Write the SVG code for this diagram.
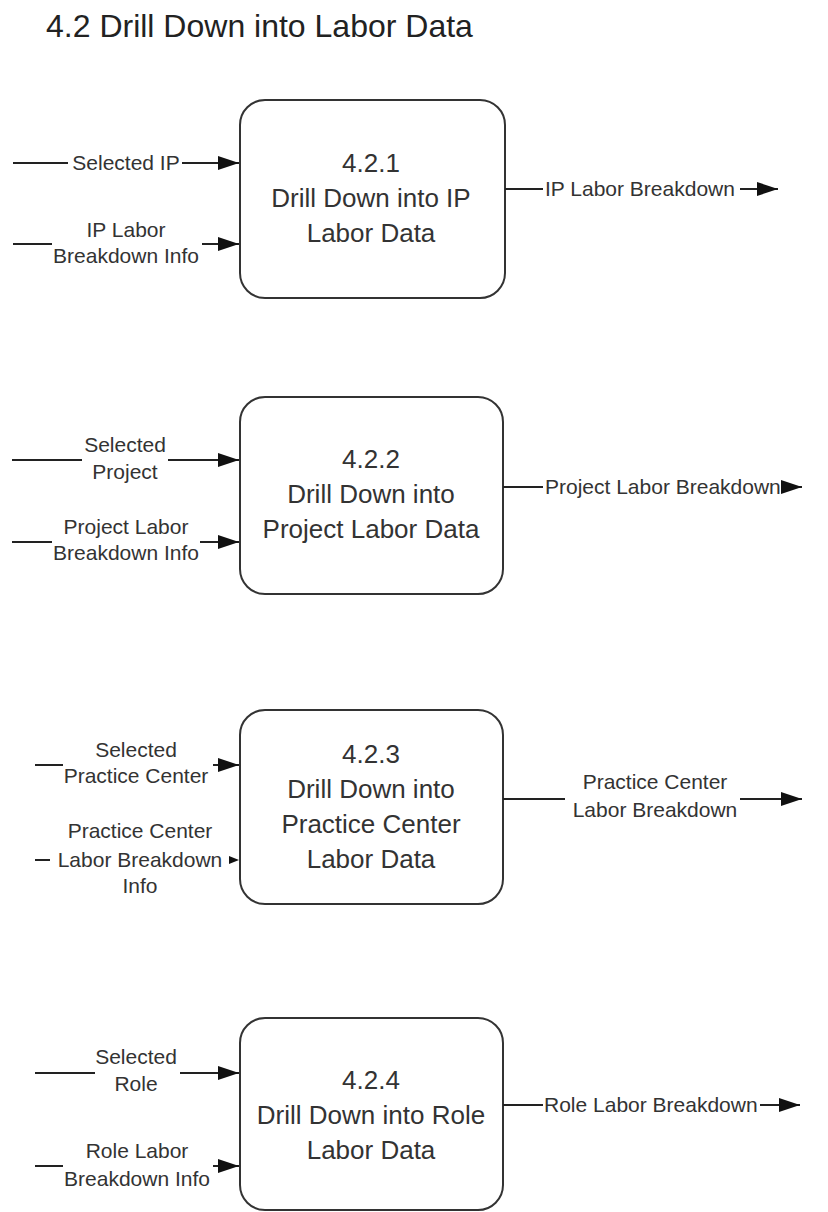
<svg xmlns="http://www.w3.org/2000/svg" width="828" height="1212" viewBox="0 0 828 1212">
  <style>
    .title { font-family: "Liberation Sans", Arial, sans-serif; font-size: 32px; fill: #222; }
    .proc { fill: #fff; stroke: #333; stroke-width: 2; }
    .ptxt { font-family: "Liberation Sans", Arial, sans-serif; font-size: 26px; fill: #333; text-anchor: middle; }
    .lbl { font-family: "Liberation Sans", Arial, sans-serif; font-size: 21px; fill: #333; }
    .mid { text-anchor: middle; }
    .flow { stroke: #222; stroke-width: 2; fill: none; }
    .arr { stroke: #222; stroke-width: 2; fill: none; marker-end: url(#head); }
    .tip { fill: #111; }
  </style>
  <defs>
    <marker id="head" markerUnits="userSpaceOnUse" markerWidth="22" markerHeight="14" refX="21" refY="7" orient="auto">
      <path d="M0,0 L21,7 L0,14 Z" fill="#111"/>
    </marker>
  </defs>

  <rect width="828" height="1212" fill="#fff"/>

  <text class="title" x="46" y="37">4.2 Drill Down into Labor Data</text>

  <!-- Processes -->
  <g id="p421">
    <rect class="proc" x="240" y="100" width="265" height="198" rx="25" ry="25"/>
    <text class="ptxt" x="371" y="172">4.2.1</text>
    <text class="ptxt" x="371" y="207">Drill Down into IP</text>
    <text class="ptxt" x="371" y="242">Labor Data</text>
  </g>
  <g id="p422">
    <rect class="proc" x="240" y="397" width="263" height="197" rx="25" ry="25"/>
    <text class="ptxt" x="371" y="468">4.2.2</text>
    <text class="ptxt" x="371" y="503">Drill Down into</text>
    <text class="ptxt" x="371" y="538">Project Labor Data</text>
  </g>
  <g id="p423">
    <rect class="proc" x="240" y="710" width="263" height="194" rx="25" ry="25"/>
    <text class="ptxt" x="371" y="763">4.2.3</text>
    <text class="ptxt" x="371" y="798">Drill Down into</text>
    <text class="ptxt" x="371" y="833">Practice Center</text>
    <text class="ptxt" x="371" y="868">Labor Data</text>
  </g>
  <g id="p424">
    <rect class="proc" x="240" y="1018" width="263" height="192" rx="25" ry="25"/>
    <text class="ptxt" x="371" y="1089">4.2.4</text>
    <text class="ptxt" x="371" y="1124">Drill Down into Role</text>
    <text class="ptxt" x="371" y="1159">Labor Data</text>
  </g>

  <!-- Data flows -->
  <g id="flows">
    <!-- 4.2.1 -->
    <line class="flow" x1="13" y1="163" x2="68" y2="163"/>
    <line class="arr" x1="182" y1="163" x2="239" y2="163"/>
    <text class="lbl mid" x="126" y="170">Selected IP</text>

    <line class="flow" x1="13" y1="244" x2="52" y2="244"/>
    <line class="arr" x1="202" y1="244" x2="239" y2="244"/>
    <text class="lbl mid" x="126" y="237">IP Labor</text>
    <text class="lbl mid" x="126" y="263">Breakdown Info</text>

    <line class="flow" x1="505" y1="189" x2="543" y2="189"/>
    <line class="arr" x1="740" y1="189" x2="778" y2="189"/>
    <text class="lbl" x="545" y="196">IP Labor Breakdown</text>

    <!-- 4.2.2 -->
    <line class="flow" x1="12" y1="460" x2="82" y2="460"/>
    <line class="arr" x1="168" y1="460" x2="239" y2="460"/>
    <text class="lbl mid" x="125" y="452">Selected</text>
    <text class="lbl mid" x="125" y="479">Project</text>

    <line class="flow" x1="12" y1="542" x2="52" y2="542"/>
    <line class="arr" x1="200" y1="542" x2="239" y2="542"/>
    <text class="lbl mid" x="126" y="534">Project Labor</text>
    <text class="lbl mid" x="126" y="560">Breakdown Info</text>

    <line class="flow" x1="503" y1="487" x2="543" y2="487"/>
    <line class="arr" x1="783" y1="487" x2="802" y2="487"/>
    <text class="lbl" x="545" y="494">Project Labor Breakdown</text>

    <!-- 4.2.3 -->
    <line class="flow" x1="35" y1="765" x2="63" y2="765"/>
    <line class="arr" x1="213" y1="765" x2="239" y2="765"/>
    <text class="lbl mid" x="136" y="757">Selected</text>
    <text class="lbl mid" x="136" y="783">Practice Center</text>

    <line class="flow" x1="35" y1="860" x2="50" y2="860"/>
    <polygon class="tip" points="229,856 239,860 229,864"/>
    <text class="lbl mid" x="140" y="838">Practice Center</text>
    <text class="lbl mid" x="140" y="867">Labor Breakdown</text>
    <text class="lbl mid" x="140" y="893">Info</text>

    <line class="flow" x1="503" y1="799" x2="565" y2="799"/>
    <line class="arr" x1="740" y1="799" x2="802" y2="799"/>
    <text class="lbl mid" x="655" y="789">Practice Center</text>
    <text class="lbl mid" x="655" y="817">Labor Breakdown</text>

    <!-- 4.2.4 -->
    <line class="flow" x1="35" y1="1073" x2="95" y2="1073"/>
    <line class="arr" x1="180" y1="1073" x2="239" y2="1073"/>
    <text class="lbl mid" x="136" y="1064">Selected</text>
    <text class="lbl mid" x="136" y="1091">Role</text>

    <line class="flow" x1="35" y1="1166" x2="63" y2="1166"/>
    <line class="arr" x1="213" y1="1166" x2="239" y2="1166"/>
    <text class="lbl mid" x="137" y="1158">Role Labor</text>
    <text class="lbl mid" x="137" y="1186">Breakdown Info</text>

    <line class="flow" x1="503" y1="1105" x2="543" y2="1105"/>
    <line class="arr" x1="760" y1="1105" x2="800" y2="1105"/>
    <text class="lbl" x="544" y="1112">Role Labor Breakdown</text>
  </g>
</svg>
